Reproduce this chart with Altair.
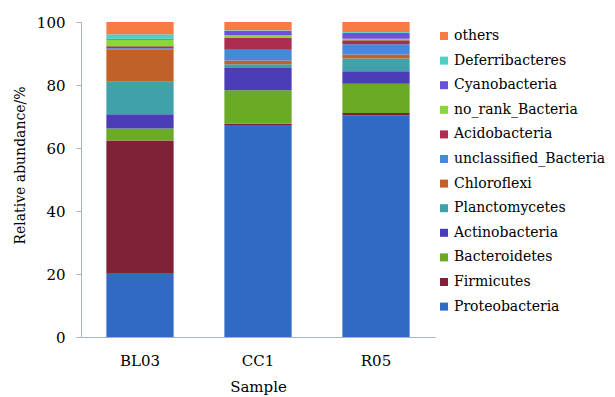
import altair as alt
import pandas as pd

samples = ["BL03", "CC1", "R05"]
phyla = ["Proteobacteria", "Firmicutes", "Bacteroidetes", "Actinobacteria",
         "Planctomycetes", "Chloroflexi", "unclassified_Bacteria", "Acidobacteria",
         "no_rank_Bacteria", "Cyanobacteria", "Deferribacteres", "others"]
bl03 = [20.1, 42.3, 3.8, 4.5, 10.3, 10.2, 0.5, 0.6, 2.1, 0.3, 1.4, 3.9]
cc1 = [67.3, 0.4, 10.6, 7.1, 1.2, 1.2, 3.4, 3.7, 0.9, 1.4, 0.2, 2.6]
r05 = [70.4, 0.7, 9.3, 4.0, 4.0, 1.3, 3.2, 1.3, 0.5, 1.9, 0.2, 3.2]
colors = ["#316AC5", "#802236", "#6AAA25", "#4B3DB7", "#41A1AA", "#C0612A",
          "#4588DF", "#AC2D50", "#8BD63A", "#6A52DC", "#4ECFC4", "#F97A43"]

rows = []
for s, vals in zip(samples, [bl03, cc1, r05]):
    for i, (p, v) in enumerate(zip(phyla, vals)):
        rows.append({"Sample": s, "Phylum": p, "Abundance": v, "rank": i})
df = pd.DataFrame(rows)

FONT = "DejaVu Serif"
AXC = "#A3B3BA"

chart = alt.Chart(df).mark_bar().encode(
    x=alt.X("Sample:N", sort=samples,
            scale=alt.Scale(paddingInner=0.43, paddingOuter=0.215),
            axis=alt.Axis(title="Sample", labelAngle=0, ticks=False, labelPadding=16,
                          titleFontSize=15, titleY=54, titleBaseline="alphabetic")),
    y=alt.Y("Abundance:Q", stack="zero",
            scale=alt.Scale(domain=[0, 100], nice=False),
            axis=alt.Axis(title="Relative abundance/%", values=[0, 20, 40, 60, 80, 100],
                          grid=False, tickSize=5, labelPadding=11, titleFontSize=14,
                          titleX=-61, titleY=143, titleBaseline="middle")),
    color=alt.Color("Phylum:N",
                    scale=alt.Scale(domain=phyla[::-1], range=colors[::-1]),
                    legend=alt.Legend(title=None, orient="none", legendX=356, legendY=7,
                                      symbolType="square", symbolSize=64,
                                      symbolStrokeWidth=0, symbolOpacity=1,
                                      labelFont=FONT, labelFontSize=14,
                                      labelColor="black",
                                      labelOffset=3, rowPadding=10.6, padding=0,
                                      labelLimit=300)),
    order=alt.Order("rank:Q", sort="ascending"),
).properties(
    width=354, height=315,
    autosize=alt.AutoSizeParams(type="none"),
    padding={"left": 73, "top": 14, "right": 172, "bottom": 60},
).configure_axis(
    domainColor=AXC, tickColor=AXC, labelColor="black", titleColor="black",
    labelFont=FONT, titleFont=FONT, titleFontWeight="normal",
    labelFontSize=15,
).configure_view(stroke=None)

chart.save("out.html", embed_options={"renderer": "svg", "actions": False})
